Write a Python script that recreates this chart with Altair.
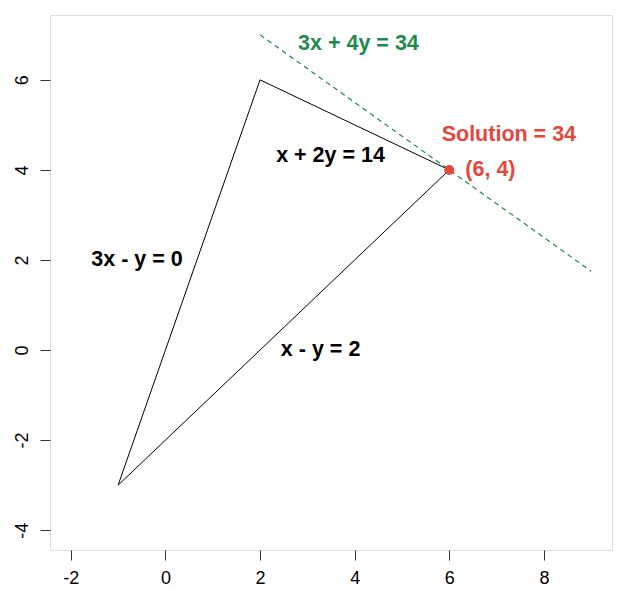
import altair as alt
import pandas as pd

# Feasible region triangle (vertices, closed)
tri_x = [-1, 2, 6, -1]
tri_y = [-3, 6, 4, -3]

# Objective line 3x + 4y = 34
obj_x = [2, 9]
obj_y = [7, 1.75]

# Optimal point
sol_x = [6]
sol_y = [4]

# Constraint labels (black)
blk_text = ["x + 2y = 14", "3x - y = 0", "x - y = 2"]
blk_x = [3.49, -0.6, 3.28]
blk_y = [4.31, 2.0, 0.0]

# Red labels
red_text = ["Solution = 34", "(6, 4)"]
red_x = [7.26, 6.87]
red_y = [4.78, 4.0]

# Green label
grn_text = ["3x + 4y = 34"]
grn_x = [4.08]
grn_y = [6.8]

x_ticks = [-2, 0, 2, 4, 6, 8]
y_ticks = [-4, -2, 0, 2, 4, 6]

RED = "#e4473b"
GREEN = "#1f8a4c"
FONT = "Liberation Sans"

xs = alt.Scale(domain=[-2.44, 9.44], nice=False, zero=False)
ys = alt.Scale(domain=[-4.44, 7.44], nice=False, zero=False)

tri = pd.DataFrame({"x": tri_x, "y": tri_y, "i": list(range(len(tri_x)))})
obj = pd.DataFrame({"x": obj_x, "y": obj_y})
sol = pd.DataFrame({"x": sol_x, "y": sol_y})
blk = pd.DataFrame({"x": blk_x, "y": blk_y, "t": blk_text})
red = pd.DataFrame({"x": red_x, "y": red_y, "t": red_text})
grn = pd.DataFrame({"x": grn_x, "y": grn_y, "t": grn_text})

x_axis = alt.Axis(values=x_ticks, title=None, grid=False, domain=False,
                  tickSize=10, tickColor="#333", labelFontSize=18,
                  labelFont=FONT, labelColor="#000", labelPadding=9,
                  labelBaseline="top", labelExpr="'' + datum.value")
y_axis = alt.Axis(values=y_ticks, title=None, grid=False, domain=False,
                  tickSize=10, tickColor="#333", labelFontSize=18,
                  labelFont=FONT, labelColor="#000", labelAngle=-90,
                  labelAlign="center", labelBaseline="bottom", labelPadding=9,
                  labelExpr="'' + datum.value")

tri_layer = alt.Chart(tri).mark_line(color="black", strokeWidth=1).encode(
    x=alt.X("x:Q", scale=xs, axis=x_axis),
    y=alt.Y("y:Q", scale=ys, axis=y_axis),
    order="i:Q",
)

obj_layer = alt.Chart(obj).mark_line(color=GREEN, strokeWidth=1.2,
                                     strokeDash=[5, 4]).encode(
    x=alt.X("x:Q", scale=xs), y=alt.Y("y:Q", scale=ys)
)

sol_layer = alt.Chart(sol).mark_point(filled=True, color=RED, size=100,
                                      opacity=1).encode(
    x=alt.X("x:Q", scale=xs), y=alt.Y("y:Q", scale=ys)
)


def text_layer(df, color):
    return alt.Chart(df).mark_text(font=FONT, fontWeight="bold", fontSize=21.5,
                                   color=color, align="center",
                                   baseline="middle").encode(
        x=alt.X("x:Q", scale=xs), y=alt.Y("y:Q", scale=ys), text="t:N"
    )


chart = alt.layer(
    tri_layer, obj_layer, sol_layer,
    text_layer(blk, "black"), text_layer(red, RED), text_layer(grn, GREEN)
).properties(
    width=562, height=535,
    autosize=alt.AutoSizeParams(type="none"),
    padding={"left": 42, "top": 7, "right": 4, "bottom": 43},
).configure_view(
    stroke="#333", strokeWidth=1
).configure(background="white")

chart.save("out.html", embed_options={"renderer": "svg", "actions": False})
